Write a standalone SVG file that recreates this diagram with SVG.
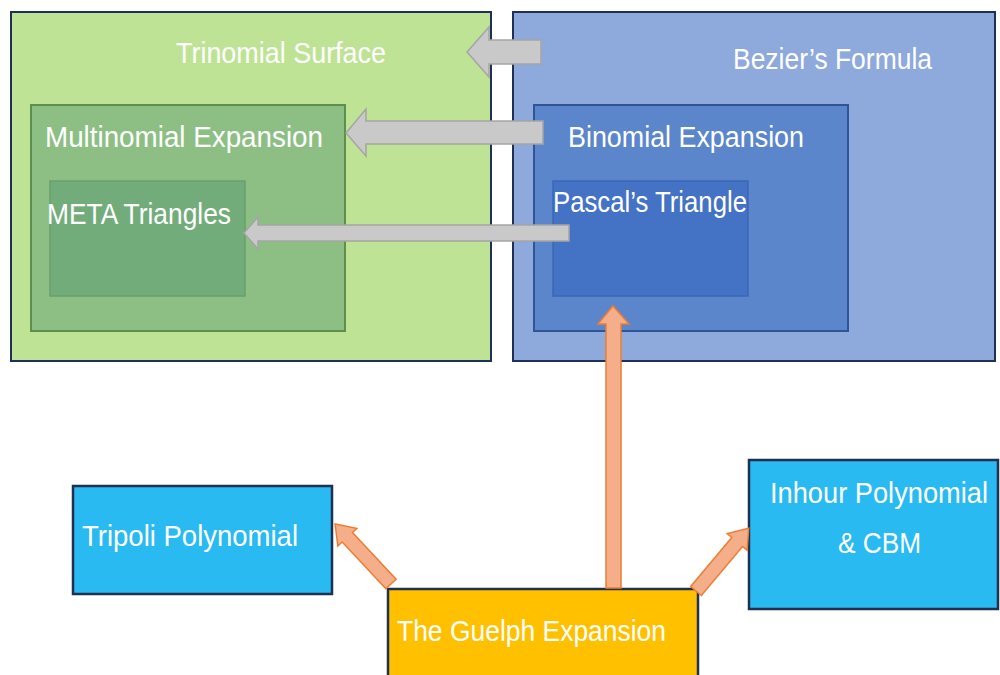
<svg xmlns="http://www.w3.org/2000/svg" width="1000" height="675" viewBox="0 0 1000 675">
<style>
  text { font-family: "Liberation Sans", "Open Sans", sans-serif; fill: #ffffff; font-size: 30px; }
  .outer { stroke: #1F2F55; stroke-width: 2; }
  .grey { fill: #C9C9C9; stroke: #A5A5A5; stroke-width: 1.5; }
  .orange { fill: #F5AE8A; stroke: #ED7D31; stroke-width: 1.5; }
  .leaf { fill: #28BAF0; stroke: #1F3050; stroke-width: 2.5; }
</style>
<rect width="1000" height="675" fill="#ffffff"/>

<g id="trinomial-surface">
  <rect class="outer" x="11" y="12" width="480" height="349" fill="#BEE395"/>
  <text x="176" y="63" textLength="210" lengthAdjust="spacingAndGlyphs">Trinomial Surface</text>
</g>
<g id="multinomial-expansion">
  <rect x="31" y="105" width="314" height="226" fill="#8DBF85" stroke="#5F8F4C" stroke-width="2"/>
  <text x="45" y="147" textLength="278" lengthAdjust="spacingAndGlyphs">Multinomial Expansion</text>
</g>
<g id="meta-triangles">
  <rect x="50" y="181" width="195" height="115" fill="#73AC7B" stroke="#6A9F6C" stroke-width="1.5"/>
  <text x="47" y="224" textLength="184" lengthAdjust="spacingAndGlyphs">META Triangles</text>
</g>

<g id="beziers-formula">
  <rect class="outer" x="513" y="12" width="482" height="349" fill="#8EA9DB"/>
  <text x="733" y="69" textLength="199" lengthAdjust="spacingAndGlyphs">Bezier’s Formula</text>
</g>
<g id="binomial-expansion">
  <rect x="534" y="105" width="314" height="226" fill="#5B86CB" stroke="#2F5597" stroke-width="2"/>
  <text x="568" y="147" textLength="236" lengthAdjust="spacingAndGlyphs">Binomial Expansion</text>
</g>
<g id="pascals-triangle">
  <rect x="553" y="181" width="195" height="115" fill="#4472C4" stroke="#3D67B5" stroke-width="1.5"/>
  <text x="553" y="212" textLength="194" lengthAdjust="spacingAndGlyphs">Pascal’s Triangle</text>
</g>

<g id="tripoli-polynomial">
  <rect class="leaf" x="73" y="486" width="259" height="108"/>
  <text x="82" y="546" textLength="216" lengthAdjust="spacingAndGlyphs">Tripoli Polynomial</text>
</g>
<g id="inhour-polynomial">
  <rect class="leaf" x="749" y="460" width="249" height="149"/>
  <text x="770" y="503" font-size="27" textLength="218" lengthAdjust="spacingAndGlyphs">Inhour Polynomial</text>
  <text x="838" y="553" textLength="83" lengthAdjust="spacingAndGlyphs">&amp; CBM</text>
</g>
<g id="guelph-expansion">
  <rect x="388" y="589" width="310" height="95" fill="#FFC000" stroke="#1F3050" stroke-width="2.5"/>
  <text x="397" y="641" textLength="269" lengthAdjust="spacingAndGlyphs">The Guelph Expansion</text>
</g>

<g id="connectors">
  <polygon class="grey" points="541,40 489,40 489,27 467,52 489,77 489,64 541,64"/>
  <polygon class="grey" points="543,121 366,121 366,109 346,133 366,156 366,144 543,144"/>
  <polygon class="grey" points="569,225 258,225 258,217 244,233 258,249 258,241 569,241"/>

  <polygon class="orange" points="606,588 606,324 598,324 613,306 629,324 621,324 621,588"/>
  <g transform="translate(391,584) rotate(-133)">
    <polygon class="orange" points="0,-7 64,-7 64,-13 82,0 64,13 64,7 0,7"/>
  </g>
  <g transform="translate(696,591) rotate(-50)">
    <polygon class="orange" points="0,-7 64,-7 64,-13 82,0 64,13 64,7 0,7"/>
  </g>
</g>
</svg>
